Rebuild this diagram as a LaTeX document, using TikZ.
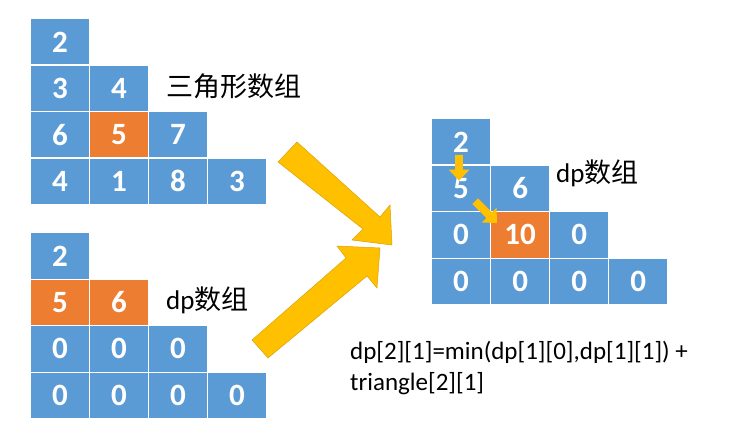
\documentclass[tikz,border=0pt]{standalone}
\usepackage{fontspec}
\setmainfont{Carlito}
\newfontfamily\cjk{Noto Sans CJK SC}
\usetikzlibrary{positioning,arrows.meta,calc}
\definecolor{cellblue}{HTML}{5B9BD5}
\definecolor{cellorange}{HTML}{ED7D31}
\definecolor{arrowgold}{HTML}{FFC000}
\definecolor{arrowedge}{HTML}{D9A300}
\begin{document}
\begin{tikzpicture}[x=1pt,y=-1pt,
  cell/.style={rectangle,draw=white,line width=1.2pt,fill=cellblue,text=white,
    minimum width=59pt,minimum height=46.5pt,anchor=north west,inner sep=0pt,
    font=\fontsize{31}{31}\selectfont\bfseries},
  hot/.style={cell,fill=cellorange},
  lbl/.style={anchor=west,inner sep=0pt,font=\fontsize{27}{27}\selectfont},
  small arrow/.style={draw=arrowedge,line width=8pt,arrowgold,-{Triangle[width=20pt,length=11pt]}}]
\useasboundingbox (0,0) rectangle (739,433);

% triangle grid
\foreach \r/\vals in {0/{2},1/{3,4},2/{6,5,7},3/{4,1,8,3}} {
  \foreach \v [count=\c from 0] in \vals {
    \node[cell] (t\r\c) at (30+59*\c,18+46.5*\r) {\v};
  }
}
\node[hot] at (t21.north west) {5};
\node[lbl] (tname) at (166,86) {\cjk 三角形数组};

% dp grid, left
\foreach \r/\vals in {0/{2},1/{5,6},2/{0,0,0},3/{0,0,0,0}} {
  \foreach \v [count=\c from 0] in \vals {
    \node[cell] (a\r\c) at (30+59*\c,232+46.5*\r) {\v};
  }
}
\node[hot] at (a10.north west) {5};
\node[hot] at (a11.north west) {6};
\node[lbl] (aname) at (166,300) {dp{\cjk 数组}};

% dp grid, right
\foreach \r/\vals in {0/{2},1/{5,6},2/{0,10,0},3/{0,0,0,0}} {
  \foreach \v [count=\c from 0] in \vals {
    \node[cell] (b\r\c) at (431+59*\c,118+46.5*\r) {\v};
  }
}
\node[hot] at (b21.north west) {10};
\node[lbl] (bname) at (556,173) {dp{\cjk 数组}};

% big arrows
\filldraw[fill=arrowgold,draw=arrowedge,line width=0.5pt]
  (278,162) -- (297,142) -- (380,217) -- (390,205) -- (392,245) -- (352,240) -- (363,229) -- cycle;
\filldraw[fill=arrowgold,draw=arrowedge,line width=0.5pt]
  (252,340) -- (346,258) -- (337,246) -- (380,248) -- (377,288) -- (367,276) -- (268,358) -- cycle;

% small arrows
\draw[small arrow] ($(b00.south)+(-2,-11)$) -- ($(b00.south)+(-2,15)$);
\draw[small arrow] ($(b10.south east)+(-16,-11)$) -- ($(b21.north west)+(7,12)$);

\node[lbl,font=\fontsize{25}{31}\selectfont,align=left,anchor=north west] (formula) at (350,341)
  {dp[2][1]=min(dp[1][0],dp[1][1]) +\\triangle[2][1]};
\end{tikzpicture}
\end{document}
